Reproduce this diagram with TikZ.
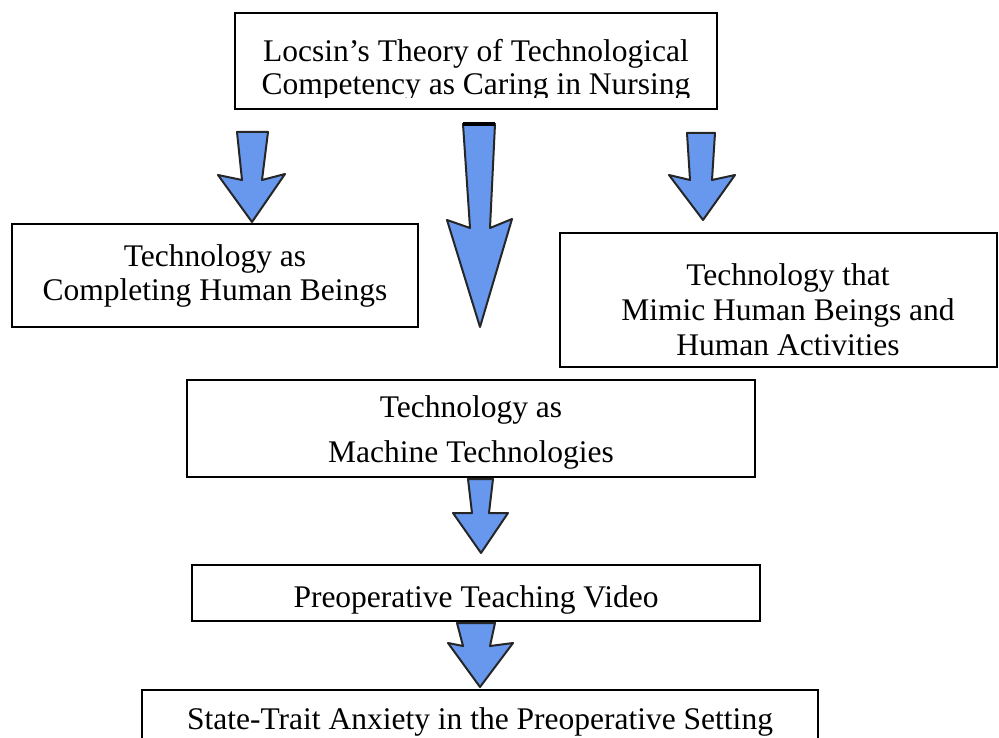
\documentclass[tikz,border=0pt]{standalone}
\usepackage{fontspec}
\setmainfont{Liberation Serif}
\definecolor{arrowblue}{RGB}{104,152,238}
\begin{document}
\begin{tikzpicture}[x=1pt,y=-1pt,
  box/.style={draw=black, line width=2.4pt, rectangle, inner sep=0pt, outer sep=0pt},
  txt/.style={anchor=base, inner sep=0pt, outer sep=0pt, font=\fontsize{31.5}{33}\selectfont},
  blockarrow/.style={fill=arrowblue, draw=black!85, line width=2pt, line join=round}]
\useasboundingbox (0,0) rectangle (999,738);
\clip (0,0) rectangle (999,738);

% boxes
\node[box, minimum width=482pt, minimum height=96pt]  (theory) at (476,61) {};
\node[box, minimum width=406pt, minimum height=103pt] (complete) at (215,275.5) {};
\node[box, minimum width=437pt, minimum height=134pt] (mimic) at (778.5,300) {};
\node[box, minimum width=568pt, minimum height=97pt]  (machine) at (471,428.5) {};
\node[box, minimum width=568pt, minimum height=56pt]  (video) at (476,593) {};
\node[box, minimum width=676pt, minimum height=70pt]  (anxiety) at (480,725) {};

% title text, its lower line cut off at the descenders
\begin{scope}
  \clip (236,14) rectangle (716,97.5);
  \node[txt] (theory1) at (476,62) {Locsin’s Theory of Technological};
  \node[txt] (theory2) at (476,95) {Competency as Caring in Nursing};
\end{scope}

\node[txt] (complete1) at (215,266) {Technology as};
\node[txt] (complete2) at (215,301) {Completing Human Beings};

\node[txt] (mimic1) at (788,285) {Technology that};
\node[txt] (mimic2) at (788,320) {Mimic Human Beings and};
\node[txt] (mimic3) at (788,355) {Human Activities};

\node[txt] (machine1) at (471,417) {Technology as};
\node[txt] (machine2) at (471,462) {Machine Technologies};

\node[txt] (video1) at (476,607) {Preoperative Teaching Video};

\node[txt] (anxiety1) at (480,729) {State-Trait Anxiety in the Preoperative Setting};

% block arrows
\draw[blockarrow] (237,132) -- (268,132) -- (262,180) -- (285,174) -- (252,222)
  -- (218,175) -- (242,180) -- cycle;
\draw[blockarrow] (463,124) -- (495,124) -- (490,228) -- (512,219) -- (480,327)
  -- (447,220) -- (470,228) -- cycle;
\draw[line width=4pt] (463,124.5) -- (495,124.5);
\draw[blockarrow] (687,133) -- (715,133) -- (712,180) -- (735,175) -- (703,220)
  -- (669,175) -- (690,180) -- cycle;
\draw[blockarrow] (468,479) -- (493,479) -- (489,513) -- (508,513) -- (481,553)
  -- (453,513) -- (472,513) -- cycle;
\draw[blockarrow] (457,623) -- (495,623) -- (490,646) -- (513,643) -- (480,687)
  -- (448,643) -- (463,646) -- cycle;
\end{tikzpicture}
\end{document}
